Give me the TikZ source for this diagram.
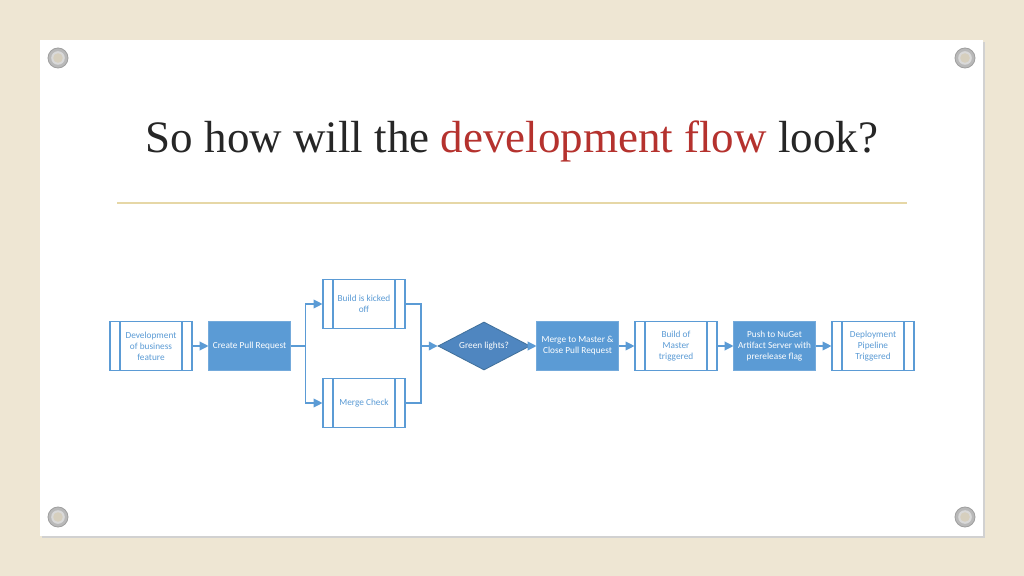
\documentclass[tikz,border=0pt]{standalone}
\usepackage{fontspec}
\setmainfont{Carlito}
\newfontfamily\titlefont{Liberation Serif}
\usepackage{xcolor}
\usetikzlibrary{shapes.geometric, arrows.meta, positioning, calc}

\definecolor{canvas}{HTML}{EEE6D3}
\definecolor{boxblue}{HTML}{5B9BD5}
\definecolor{diafill}{HTML}{4F86C0}
\definecolor{diaedge}{HTML}{41719C}
\definecolor{titledark}{HTML}{262626}
\definecolor{titlered}{HTML}{B5322E}
\definecolor{rulegold}{HTML}{E6D7A6}

\begin{document}
\begin{tikzpicture}[
    x=0.025cm, y=-0.025cm,
    font=\fontsize{6.6}{7.8}\selectfont,
    subproc/.style={rectangle, draw=boxblue, line width=0.8pt, fill=white, text=boxblue,
        minimum width=2.05cm, minimum height=1.225cm, inner sep=0pt, align=center,
        path picture={
            \draw[boxblue, line width=0.8pt]
                ([xshift=0.25cm]path picture bounding box.north west) -- ([xshift=0.25cm]path picture bounding box.south west)
                ([xshift=-0.25cm]path picture bounding box.north east) -- ([xshift=-0.25cm]path picture bounding box.south east);
        }},
    task/.style={rectangle, draw=boxblue!85!white, line width=0.6pt, fill=boxblue, text=white,
        minimum width=2.03cm, minimum height=1.225cm, inner sep=0pt, align=center},
    decision/.style={diamond, draw=diaedge, line width=0.6pt, fill=diafill, text=white,
        minimum width=2.3cm, minimum height=1.2cm, aspect=1.9, inner sep=0pt},
    link/.style={boxblue, line width=0.8pt},
    arr/.style={link, -{Triangle[length=2.2mm, width=2.2mm]}},
    grommet/.style={fill=gray!55, draw=gray!75, line width=0.6pt}
]

\useasboundingbox (0,0) rectangle (1024,576);

% Background and sheet
\fill[canvas] (0,0) rectangle (1024,576);
\fill[black!18] (42,42) rectangle (985,538);
\fill[white] (40,40) rectangle (983,536);

% Grommets
\foreach \gx/\gy in {58/58, 965/58, 58/517, 965/517} {
    \fill[grommet] (\gx,\gy) circle[radius=0.25cm];
    \fill[gray!30] (\gx,\gy) circle[radius=0.17cm];
    \fill[canvas!90!black] (\gx,\gy) circle[radius=0.12cm];
}

% Title
\node[font=\titlefont\fontsize{32}{36}\selectfont, text=titledark] (title) at (512,141)
    {So how will the \textcolor{titlered}{development flow} look?};
\draw[rulegold, line width=0.8pt] (117,203) -- (907,203);

% Nodes
\node[subproc] (dev) at (151,346) {Development\\of business\\feature};
\node[task] (cpr) at (249.5,346) {Create Pull Request};
\node[subproc] (build) at (364,304) {Build is kicked\\off};
\node[subproc] (check) at (364,403) {Merge Check};
\node[decision] (green) at (484,346) {Green lights?};
\node[task] (merge) at (577.5,346) {Merge to Master \&\\Close Pull Request};
\node[subproc] (master) at (676,346) {Build of\\Master\\triggered};
\node[task] (nuget) at (774.5,346) {Push to NuGet\\Artifact Server with\\prerelease flag};
\node[subproc] (deploy) at (873,346) {Deployment\\Pipeline\\Triggered};

% Connectors
\coordinate (join) at (421,346);
\draw[arr] (dev) -- (cpr);
\draw[arr] (cpr.east) -- ++(15,0) |- (build.west);
\draw[arr] (cpr.east) -- ++(15,0) |- (check.west);
\draw[link] (build.east) -| (join);
\draw[link] (check.east) -| (join);
\draw[arr] (join) -- (green.west);
\draw[arr] (green) -- (merge);
\draw[arr] (merge) -- (master);
\draw[arr] (master) -- (nuget);
\draw[arr] (nuget) -- (deploy);

\end{tikzpicture}
\end{document}
